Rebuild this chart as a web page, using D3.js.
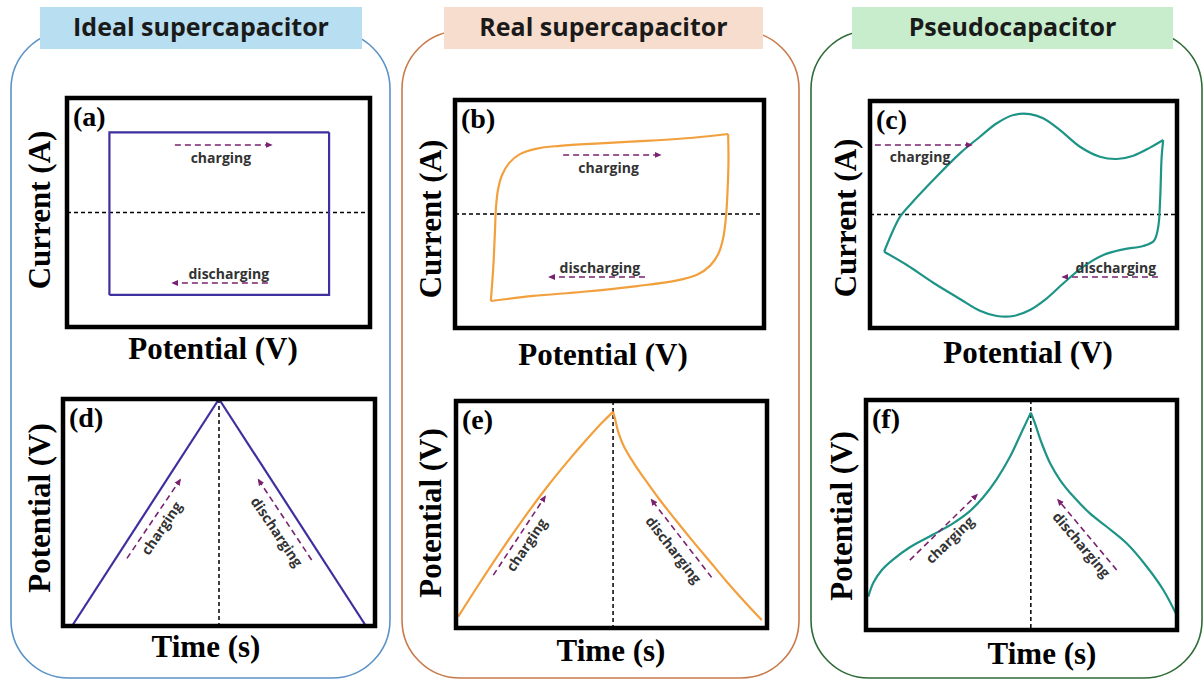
<!DOCTYPE html>
<html>
<head>
<meta charset="utf-8">
<script src="https://cdn.jsdelivr.net/npm/d3@7"></script>
<style>
  body { margin: 0; background: #fff; }
</style>
</head>
<body>
<div id="chart"></div>
<script>
// column titles, panel letters, axis labels
var titles = ["Ideal supercapacitor", "Real supercapacitor", "Pseudocapacitor"];
var cvLetters = ["(a)", "(b)", "(c)"];
var gcdLetters = ["(d)", "(e)", "(f)"];
var cvXLabel = "Potential (V)", cvYLabel = "Current (A)";
var gcdXLabel = "Time (s)", gcdYLabel = "Potential (V)";

// CV loops: [potential (fraction of window), current (normalised, 0 = dashed line)]
var cvIdealCharge = [[0.14, -0.72], [0.14, 0.70], [0.865, 0.70]];
var cvIdealDischarge = [[0.865, 0.70], [0.865, -0.72], [0.14, -0.72]];

var cvRealCharge = [[0.116, -0.763], [0.124, -0.462], [0.129, -0.169], [0.133, 0.07], [0.139, 0.21],
  [0.152, 0.34], [0.175, 0.446], [0.210, 0.525], [0.265, 0.574], [0.340, 0.598], [0.469, 0.620],
  [0.631, 0.643], [0.771, 0.669], [0.884, 0.702]];
var cvRealDischarge = [[0.884, 0.702], [0.885, 0.45], [0.882, 0.20], [0.877, -0.024], [0.868, -0.21],
  [0.852, -0.35], [0.825, -0.455], [0.785, -0.530], [0.715, -0.585], [0.590, -0.632], [0.415, -0.682],
  [0.253, -0.719], [0.116, -0.763]];

var cvPseudoCharge = [[0.046, -0.328], [0.098, -0.019], [0.130, 0.084], [0.206, 0.304], [0.293, 0.539],
  [0.358, 0.685], [0.413, 0.804], [0.467, 0.877], [0.521, 0.885], [0.564, 0.848], [0.619, 0.744],
  [0.684, 0.597], [0.749, 0.509], [0.804, 0.489], [0.858, 0.518], [0.912, 0.589], [0.955, 0.656]];
var cvPseudoDischarge = [[0.955, 0.656], [0.950, 0.509], [0.945, 0.128], [0.939, -0.107], [0.925, -0.231],
  [0.890, -0.278], [0.825, -0.307], [0.760, -0.357], [0.695, -0.460], [0.630, -0.606], [0.576, -0.738],
  [0.521, -0.841], [0.467, -0.894], [0.413, -0.894], [0.358, -0.848], [0.293, -0.744], [0.206, -0.601],
  [0.120, -0.445], [0.046, -0.328]];

// GCD curves: [time (s), potential (fraction of max)]
var gcdIdealCharge = [[2.9, 0], [50, 1]];
var gcdIdealDischarge = [[50, 1], [97.1, 0]];

var gcdRealCharge = [[0.7, 0.05], [7, 0.185], [14, 0.33], [21.6, 0.48], [29.2, 0.62], [36, 0.735],
  [42, 0.83], [47, 0.905], [50.5, 0.952]];
var gcdRealDischarge = [[50.5, 0.952], [51.2, 0.918], [52.2, 0.862], [54, 0.80], [57, 0.73], [61, 0.65],
  [65.5, 0.565], [70.5, 0.478], [76, 0.385], [81.5, 0.295], [87, 0.205], [92.5, 0.12], [98.3, 0.035]];

var gcdPseudoCharge = [[0.75, 0.145], [2.36, 0.205], [5.04, 0.260], [8.79, 0.307], [14.1, 0.360],
  [21.6, 0.415], [28.1, 0.465], [33.4, 0.517], [37.7, 0.577], [42.0, 0.655], [46.3, 0.753],
  [50.1, 0.862], [53, 0.945]];
var gcdPseudoDischarge = [[53, 0.945], [54.3, 0.899], [56.5, 0.812], [59.2, 0.725], [62.4, 0.652],
  [66.7, 0.580], [72.0, 0.507], [77.4, 0.449], [83.8, 0.377], [90.3, 0.275], [95.6, 0.174], [99.9, 0.065]];

var switchTimes = [50, 50.5, 53];   // time where charge turns to discharge (dashed line)

var cvData = [[cvIdealCharge, cvIdealDischarge], [cvRealCharge, cvRealDischarge], [cvPseudoCharge, cvPseudoDischarge]];
var gcdData = [[gcdIdealCharge, gcdIdealDischarge], [gcdRealCharge, gcdRealDischarge], [gcdPseudoCharge, gcdPseudoDischarge]];

// layout per column
var cols = [
  { box: [11, 31, 390, 678], head: [40, 7, 362, 49], edge: "#5b93c7", fill: "#b8def1", line: "#3d2f9e", smooth: false,
    cv: [67, 98, 370, 327], gcd: [63, 399, 375, 626],
    cvXL: [213, 359], cvYL: [50, 210], gcdXL: [206, 657], gcdYL: [50, 508],
    cvNotes: { ch: [0.356, 0.205, 0.673, 0.205], chT: [0.508, 0.263], dis: [0.663, 0.808, 0.350, 0.808], disT: [0.534, 0.768] },
    gcdNotes: { ch: [0.205, 0.702, 0.375, 0.357], chT: [0.316, 0.570, -56], dis: [0.797, 0.709, 0.627, 0.357], disT: [0.685, 0.585, 56] } },
  { box: [402, 31, 799, 678], head: [444, 7, 763, 49], edge: "#c97a4b", fill: "#f7ddcd", line: "#f2a03d", smooth: true,
    cv: [455, 100, 764, 328], gcd: [456, 401, 767, 628],
    cvXL: [603, 365], cvYL: [441, 219], gcdXL: [611, 661], gcdYL: [441, 513],
    cvNotes: { ch: [0.350, 0.241, 0.663, 0.241], chT: [0.497, 0.298], dis: [0.615, 0.776, 0.307, 0.776], disT: [0.469, 0.736] },
    gcdNotes: { ch: [0.120, 0.767, 0.286, 0.422], chT: [0.227, 0.634, -56], dis: [0.822, 0.777, 0.629, 0.436], disT: [0.699, 0.656, 52] } },
  { box: [811, 31, 1202, 678], head: [852, 7, 1173, 49], edge: "#2f6b37", fill: "#c7edcc", line: "#1e9486", smooth: true,
    cv: [870, 101, 1177, 328], gcd: [866, 400, 1177, 630],
    cvXL: [1028, 363], cvYL: [856, 218], gcdXL: [1042, 664], gcdYL: [852, 516],
    cvNotes: { ch: [0.016, 0.194, 0.329, 0.194], chT: [0.163, 0.245], dis: [0.938, 0.775, 0.629, 0.775], disT: [0.801, 0.735] },
    gcdNotes: { ch: [0.141, 0.696, 0.356, 0.413], chT: [0.270, 0.609, -44], dis: [0.806, 0.739, 0.618, 0.435], disT: [0.693, 0.630, 50] } }
];

var W = 1203, H = 680;
var noteColor = "#7a2270";
var serif = "'Liberation Serif', 'Times New Roman', serif";
var sans = "'Open Sans', 'Noto Sans', sans-serif";

var svg = d3.select("#chart").append("svg")
  .attr("width", W)
  .attr("height", H);

svg.append("defs").append("marker")
  .attr("id", "head")
  .attr("viewBox", "0 -4 8 8")
  .attr("refX", 6)
  .attr("refY", 0)
  .attr("markerUnits", "userSpaceOnUse")
  .attr("markerWidth", 7)
  .attr("markerHeight", 7)
  .attr("orient", "auto")
  .append("path")
  .attr("d", "M0,-3.5L8,0L0,3.5Z")
  .attr("fill", noteColor);

function arrow(g, fr, a) {
  var w = fr[2] - fr[0], h = fr[3] - fr[1];
  g.append("line")
    .attr("x1", fr[0] + a[0] * w).attr("y1", fr[1] + a[1] * h)
    .attr("x2", fr[0] + a[2] * w).attr("y2", fr[1] + a[3] * h)
    .style("stroke", noteColor)
    .style("stroke-width", 1.6)
    .style("stroke-dasharray", "6,4")
    .attr("marker-end", "url(#head)");
}

function note(g, fr, p, txt) {
  var w = fr[2] - fr[0], h = fr[3] - fr[1];
  var x = fr[0] + p[0] * w, y = fr[1] + p[1] * h;
  g.append("text")
    .attr("transform", "translate(" + x + "," + y + ") rotate(" + (p[2] || 0) + ")")
    .attr("text-anchor", "middle")
    .attr("dy", "0.35em")
    .style("font-family", sans)
    .style("font-weight", "700")
    .style("font-size", "14px")
    .style("fill", "#333")
    .text(txt);
}

function frame(g, fr) {
  g.append("rect")
    .attr("x", fr[0]).attr("y", fr[1])
    .attr("width", fr[2] - fr[0]).attr("height", fr[3] - fr[1])
    .style("fill", "none")
    .style("stroke", "#000")
    .style("stroke-width", 4.5);
}

function letter(g, fr, txt) {
  g.append("text")
    .attr("x", fr[0] + 6)
    .attr("y", fr[1] + 28)
    .style("font-family", serif)
    .style("font-weight", "700")
    .style("font-size", "28px")
    .text(txt);
}

function hLabel(g, p, txt) {
  g.append("text")
    .attr("x", p[0]).attr("y", p[1])
    .attr("text-anchor", "middle")
    .style("font-family", serif)
    .style("font-weight", "700")
    .style("font-size", "31px")
    .text(txt);
}

function vLabel(g, p, txt) {
  g.append("text")
    .attr("transform", "translate(" + p[0] + "," + p[1] + ") rotate(-90)")
    .attr("text-anchor", "middle")
    .style("font-family", serif)
    .style("font-weight", "700")
    .style("font-size", "31px")
    .text(txt);
}

cols.forEach(function(c, ci) {
  var g = svg.append("g").attr("class", "col");

  // rounded container
  g.append("rect")
    .attr("x", c.box[0]).attr("y", c.box[1])
    .attr("width", c.box[2] - c.box[0]).attr("height", c.box[3] - c.box[1])
    .attr("rx", 58).attr("ry", 58)
    .style("fill", "none")
    .style("stroke", c.edge)
    .style("stroke-width", 1.6);

  // title box
  g.append("rect")
    .attr("x", c.head[0]).attr("y", c.head[1])
    .attr("width", c.head[2] - c.head[0]).attr("height", c.head[3] - c.head[1])
    .style("fill", c.fill);
  g.append("text")
    .attr("x", (c.head[0] + c.head[2]) / 2)
    .attr("y", c.head[1] + 29)
    .attr("text-anchor", "middle")
    .style("font-family", sans)
    .style("font-weight", "700")
    .style("font-size", "25px")
    .style("fill", "#1a1a1a")
    .text(titles[ci]);

  var curve = c.smooth ? d3.curveCatmullRom.alpha(0.5) : d3.curveLinear;

  // ---- CV panel ----
  var x = d3.scaleLinear().domain([0, 1]).range([c.cv[0], c.cv[2]]);
  var y = d3.scaleLinear().domain([-1, 1]).range([c.cv[3], c.cv[1]]);
  var cvLine = d3.line().x(function(d) { return x(d[0]); }).y(function(d) { return y(d[1]); }).curve(curve);

  g.append("line")
    .attr("x1", x(0)).attr("x2", x(1))
    .attr("y1", y(0)).attr("y2", y(0))
    .style("stroke", "#000")
    .style("stroke-width", 1.5)
    .style("stroke-dasharray", "4,3");

  g.selectAll(".cv")
    .data(cvData[ci])
    .enter()
    .append("path")
    .attr("class", "cv")
    .attr("d", cvLine)
    .style("fill", "none")
    .style("stroke", c.line)
    .style("stroke-width", 2.2)
    .style("stroke-linejoin", "miter");

  frame(g, c.cv);
  letter(g, c.cv, cvLetters[ci]);
  arrow(g, c.cv, c.cvNotes.ch);
  note(g, c.cv, c.cvNotes.chT, "charging");
  arrow(g, c.cv, c.cvNotes.dis);
  note(g, c.cv, c.cvNotes.disT, "discharging");
  hLabel(g, c.cvXL, cvXLabel);
  vLabel(g, c.cvYL, cvYLabel);

  // ---- GCD panel ----
  var tx = d3.scaleLinear().domain([0, 100]).range([c.gcd[0], c.gcd[2]]);
  var vy = d3.scaleLinear().domain([0, 1]).range([c.gcd[3], c.gcd[1]]);
  var gcdLine = d3.line().x(function(d) { return tx(d[0]); }).y(function(d) { return vy(d[1]); }).curve(curve);

  g.append("line")
    .attr("x1", tx(switchTimes[ci])).attr("x2", tx(switchTimes[ci]))
    .attr("y1", vy(1)).attr("y2", vy(0))
    .style("stroke", "#000")
    .style("stroke-width", 1.5)
    .style("stroke-dasharray", "4,3");

  g.selectAll(".gcd")
    .data(gcdData[ci])
    .enter()
    .append("path")
    .attr("class", "gcd")
    .attr("d", gcdLine)
    .style("fill", "none")
    .style("stroke", c.line)
    .style("stroke-width", 2.2);

  frame(g, c.gcd);
  letter(g, c.gcd, gcdLetters[ci]);
  arrow(g, c.gcd, c.gcdNotes.ch);
  note(g, c.gcd, c.gcdNotes.chT, "charging");
  arrow(g, c.gcd, c.gcdNotes.dis);
  note(g, c.gcd, c.gcdNotes.disT, "discharging");
  hLabel(g, c.gcdXL, gcdXLabel);
  vLabel(g, c.gcdYL, gcdYLabel);
});
</script>
</body>
</html>
